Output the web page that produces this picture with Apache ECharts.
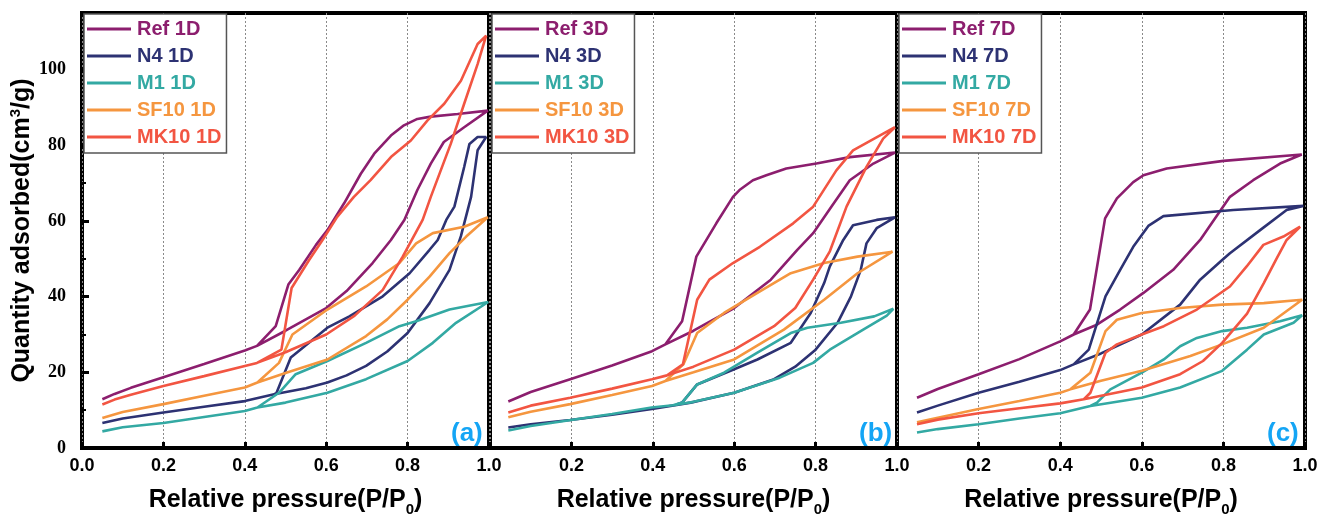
<!DOCTYPE html>
<html>
<head>
<meta charset="utf-8">
<script src="https://cdn.jsdelivr.net/npm/echarts@6/dist/echarts.min.js"></script>
<style>
html,body{margin:0;padding:0;background:#fff;}
#chart{width:1332px;height:522px;}
</style>
</head>
<body>
<div id="chart"></div>
<script>
// ---------- data: [P/P0, quantity adsorbed] ; adsorption branch then desorption branch ----------
// Panel (a) 1 day
const ref1D = [[0.05,12.9],[0.08,14.3],[0.12,15.9],[0.2,18.7],[0.3,22.2],[0.4,25.8],[0.43,27.0],[0.5,31.0],[0.6,37.0],[0.65,41.5],[0.714,48.9],[0.759,55.0],[0.792,60.3],[0.824,68.2],[0.857,75.2],[0.889,80.9],[0.939,84.8],[0.997,89.2],
  [0.923,88.3],[0.857,87.6],[0.824,87.0],[0.791,85.3],[0.759,82.6],[0.718,77.8],[0.685,72.5],[0.644,64.7],[0.603,57.6],[0.575,53.7],[0.534,47.1],[0.507,43.2],[0.476,32.2],[0.43,27.0]];
const n41D = [[0.05,6.6],[0.1,7.8],[0.2,9.4],[0.3,10.9],[0.4,12.4],[0.472,14.2],[0.55,15.8],[0.603,17.3],[0.65,19.2],[0.698,21.7],[0.75,25.5],[0.8,30.4],[0.854,38.3],[0.903,47.1],[0.931,56.0],[0.956,66.4],[0.972,78.7],[0.993,82.2],
  [0.972,82.2],[0.952,80.4],[0.939,74.3],[0.915,63.8],[0.895,60.3],[0.874,55.0],[0.854,52.4],[0.805,46.2],[0.739,40.1],[0.657,34.8],[0.603,31.8],[0.513,23.9],[0.478,14.6],[0.472,14.2]];
const m11D = [[0.05,4.4],[0.1,5.5],[0.2,6.6],[0.3,8.2],[0.4,9.8],[0.431,10.7],[0.5,12.0],[0.603,14.6],[0.698,18.2],[0.8,23.0],[0.862,27.8],[0.919,33.1],[0.998,38.6],
  [0.903,36.6],[0.821,33.5],[0.78,32.2],[0.698,27.8],[0.603,23.0],[0.525,19.5],[0.484,14.6],[0.431,10.7]];
const sf1D = [[0.05,7.9],[0.1,9.5],[0.2,11.6],[0.3,13.8],[0.4,16.0],[0.431,17.3],[0.5,19.8],[0.603,23.4],[0.698,29.6],[0.75,34.0],[0.8,39.2],[0.854,45.3],[0.903,51.5],[0.944,55.9],[0.997,61.0],
  [0.939,58.5],[0.862,56.8],[0.821,54.1],[0.78,48.9],[0.698,42.7],[0.603,36.6],[0.517,30.0],[0.484,22.5],[0.431,17.3]];
const mk1D = [[0.05,11.5],[0.08,12.8],[0.12,14.1],[0.2,16.4],[0.3,19.0],[0.4,21.7],[0.43,22.5],[0.5,25.3],[0.6,30.0],[0.67,35.0],[0.739,41.8],[0.788,50.6],[0.837,60.3],[0.857,66.4],[0.906,80.4],[0.939,91.0],[0.972,101.5],[0.993,109.0],
  [0.972,106.8],[0.931,97.1],[0.89,91.0],[0.849,86.6],[0.808,81.3],[0.759,76.9],[0.709,70.8],[0.668,66.4],[0.627,61.1],[0.591,55.0],[0.558,49.7],[0.515,42.3],[0.49,26.0],[0.43,22.5]];

// Panel (b) 3 days
const ref3D = [[0.045,12.3],[0.1,14.8],[0.197,18.2],[0.3,21.8],[0.398,25.6],[0.431,27.4],[0.5,31.0],[0.6,37.0],[0.69,44.5],[0.755,52.4],[0.794,56.8],[0.84,64.0],[0.884,70.8],[0.942,75.2],[0.995,78.1],
  [0.884,76.9],[0.802,75.2],[0.728,73.9],[0.679,72.1],[0.646,70.8],[0.613,68.2],[0.597,66.4],[0.556,59.4],[0.507,50.6],[0.472,33.5],[0.431,27.4]];
const n43D = [[0.045,5.4],[0.1,6.3],[0.197,7.4],[0.3,8.8],[0.398,10.3],[0.493,12.0],[0.6,14.6],[0.698,18.2],[0.75,21.5],[0.8,26.0],[0.854,33.1],[0.887,40.1],[0.911,47.1],[0.925,54.1],[0.95,58.1],[0.995,61.0],
  [0.95,60.3],[0.892,58.9],[0.868,55.0],[0.835,48.0],[0.821,43.6],[0.788,35.7],[0.739,27.8],[0.657,23.4],[0.6,20.8],[0.509,16.8],[0.472,12.0],[0.46,11.6]];
const m13D = [[0.045,4.6],[0.1,5.8],[0.199,7.4],[0.3,9.0],[0.397,10.7],[0.45,11.3],[0.5,12.2],[0.6,14.6],[0.712,18.6],[0.794,22.5],[0.835,26.0],[0.917,31.3],[0.975,35.0],[0.991,36.8],
  [0.944,34.8],[0.862,33.1],[0.78,31.8],[0.739,30.4],[0.657,25.2],[0.575,19.9],[0.509,16.8],[0.472,12.0],[0.45,11.3]];
const sf3D = [[0.045,8.1],[0.1,9.6],[0.197,11.6],[0.3,14.0],[0.398,16.4],[0.431,17.7],[0.5,20.0],[0.6,23.4],[0.722,31.3],[0.821,39.2],[0.903,46.2],[0.989,51.9],
  [0.903,50.6],[0.821,48.9],[0.739,46.2],[0.657,41.0],[0.575,35.7],[0.509,30.4],[0.475,22.1],[0.431,17.7]];
const mk3D = [[0.045,9.4],[0.1,11.2],[0.197,13.3],[0.3,15.7],[0.398,18.2],[0.435,19.2],[0.5,21.5],[0.6,26.0],[0.698,32.2],[0.75,37.0],[0.794,44.5],[0.835,52.0],[0.876,63.8],[0.925,74.3],[0.966,81.8],[0.995,84.8],
  [0.892,78.7],[0.851,73.4],[0.794,63.8],[0.745,59.4],[0.663,53.2],[0.597,48.9],[0.539,44.5],[0.509,39.2],[0.474,22.1],[0.435,19.2]];

// Panel (c) 7 days
const ref7D = [[0.049,13.3],[0.1,15.6],[0.2,19.5],[0.3,23.5],[0.4,28.2],[0.433,30.0],[0.49,32.6],[0.547,36.6],[0.604,41.0],[0.677,47.1],[0.743,55.0],[0.816,66.4],[0.873,70.8],[0.939,75.2],[0.992,77.6],
  [0.8,75.9],[0.661,73.9],[0.604,72.1],[0.579,70.3],[0.539,66.0],[0.51,60.7],[0.473,36.6],[0.433,30.0]];
const n47D = [[0.049,9.4],[0.1,11.2],[0.2,14.6],[0.3,17.5],[0.4,20.6],[0.433,22.1],[0.5,25.0],[0.6,30.0],[0.694,37.9],[0.743,44.5],[0.797,49.7],[0.816,51.5],[0.89,57.6],[0.955,62.9],[0.996,64.0],
  [0.824,62.9],[0.653,61.3],[0.616,58.7],[0.579,53.2],[0.547,47.1],[0.511,40.1],[0.47,26.0],[0.433,22.1]];
const m17D = [[0.049,4.1],[0.1,5.0],[0.2,6.3],[0.3,7.8],[0.4,9.2],[0.474,11.1],[0.6,13.3],[0.694,16.0],[0.797,20.4],[0.858,26.0],[0.899,30.0],[0.972,33.1],[0.993,35.1],
  [0.939,33.5],[0.858,31.8],[0.797,30.9],[0.735,29.1],[0.694,26.9],[0.654,23.4],[0.6,19.9],[0.523,15.5],[0.49,12.0],[0.474,11.1]];
const sf7D = [[0.049,6.8],[0.1,8.0],[0.2,10.3],[0.3,12.4],[0.4,14.6],[0.425,15.5],[0.5,17.8],[0.6,20.4],[0.719,24.3],[0.797,27.4],[0.899,31.8],[0.993,39.2],
  [0.899,38.3],[0.797,37.9],[0.694,37.0],[0.6,35.7],[0.539,33.9],[0.511,30.9],[0.474,19.9],[0.425,15.5]];
const mk7D = [[0.049,6.3],[0.1,7.5],[0.2,9.2],[0.3,10.5],[0.4,11.8],[0.458,12.9],[0.6,16.0],[0.694,19.5],[0.75,23.0],[0.797,27.8],[0.858,35.5],[0.899,43.6],[0.93,50.0],[0.955,55.0],[0.988,58.5],
  [0.947,55.9],[0.898,53.7],[0.857,48.0],[0.816,42.7],[0.735,36.6],[0.654,32.2],[0.6,30.0],[0.539,27.4],[0.511,25.2],[0.474,14.6],[0.458,12.9]];

const sampleNames = ['Ref', 'N4', 'M1', 'SF10', 'MK10'];
const ages = ['1D', '3D', '7D'];
const panelLabels = ['(a)', '(b)', '(c)'];
const panelData = [
  [ref1D, n41D, m11D, sf1D, mk1D],
  [ref3D, n43D, m13D, sf3D, mk3D],
  [ref7D, n47D, m17D, sf7D, mk7D]
];

// ---------- styling ----------
const colors = ['#8C1E6E', '#2D3273', '#33A9A3', '#F5963F', '#F25542'];
const SANS = '"Liberation Sans", Arial, sans-serif';
const SERIF = '"Liberation Serif", "Times New Roman", serif';
const grids = [
  {left: 82, top: 13, width: 407, height: 436},
  {left: 490, top: 13, width: 407, height: 436},
  {left: 897, top: 13, width: 408, height: 436}
];

const option = {
  animation: false,
  backgroundColor: '#fff',
  grid: grids.map(g => Object.assign({show: true, borderColor: '#000', borderWidth: 4, backgroundColor: 'transparent', containLabel: false}, g)),
  xAxis: grids.map((g, i) => ({
    type: 'value', gridIndex: i, min: 0, max: 1, interval: 0.2,
    axisLine: {show: false},
    axisTick: {show: true, inside: true, length: 6, lineStyle: {color: '#000', width: 3}},
    axisLabel: {
      show: true, margin: 9, showMinLabel: i === 0,
      formatter: v => v.toFixed(1),
      fontFamily: SANS, fontWeight: 'bold', fontSize: 18, color: '#000'
    },
    splitLine: {show: true, lineStyle: {color: '#8a8a8a', width: 1, type: [2, 2]}},
    name: 'Relative pressure(P/P{sub|0})',
    nameLocation: 'middle', nameGap: 36,
    nameTextStyle: {
      fontFamily: SANS, fontWeight: 'bold', fontSize: 25, color: '#000',
      rich: {sub: {fontFamily: SANS, fontWeight: 'bold', fontSize: 15, color: '#000', padding: [18, 0, 0, 0]}}
    }
  })),
  yAxis: grids.map((g, i) => ({
    type: 'value', gridIndex: i, min: 0, max: 115, interval: 20,
    axisLine: {show: false},
    axisTick: {show: i === 0, inside: true, length: 7, lineStyle: {color: '#000', width: 3}},
    minorTick: {show: i === 0, splitNumber: 2, length: 4, lineStyle: {color: '#000', width: 2}},
    axisLabel: {
      show: i === 0, margin: 16, showMaxLabel: false,
      fontFamily: SERIF, fontWeight: 'bold', fontSize: 18, color: '#000'
    },
    splitLine: {show: false},
    name: i === 0 ? 'Quantity adsorbed(cm{sup|3}/g)' : '',
    nameLocation: 'middle', nameGap: 36,
    nameTextStyle: {
      fontFamily: SANS, fontWeight: 'bold', fontSize: 25, color: '#000',
      rich: {sup: {fontFamily: SANS, fontWeight: 'bold', fontSize: 15, color: '#000', padding: [0, 0, 14, 0]}}
    }
  })),
  legend: grids.map((g, i) => ({
    left: g.left + 2, top: g.top + 1,
    orient: 'vertical',
    backgroundColor: '#fff', borderColor: '#555', borderWidth: 1.5, borderRadius: 0,
    padding: [5, 5, 6, 3],
    icon: 'rect', itemWidth: 44, itemHeight: 3, itemGap: 7,
    textStyle: {fontFamily: SANS, fontWeight: 'bold', fontSize: 20, padding: [0, 0, 0, 1]},
    data: sampleNames.map((s, k) => ({name: s + ' ' + ages[i], textStyle: {color: colors[k]}}))
  })),
  series: [],
  graphic: grids.map((g, i) => ({
    type: 'text', left: g.left + g.width - 38, top: g.top + g.height - 28, z: 100,
    style: {text: panelLabels[i], fill: '#14A5F5', font: 'bold 26px ' + SANS}
  }))
};

panelData.forEach((arr, i) => {
  arr.forEach((d, k) => {
    option.series.push({
      type: 'line', name: sampleNames[k] + ' ' + ages[i],
      xAxisIndex: i, yAxisIndex: i,
      data: d, showSymbol: false, symbol: 'none', smooth: false,
      lineStyle: {color: colors[k], width: 2.6},
      itemStyle: {color: colors[k]},
      z: 3
    });
  });
});

const chart = echarts.init(document.getElementById('chart'), null, {renderer: 'canvas'});
chart.setOption(option);
</script>
</body>
</html>
